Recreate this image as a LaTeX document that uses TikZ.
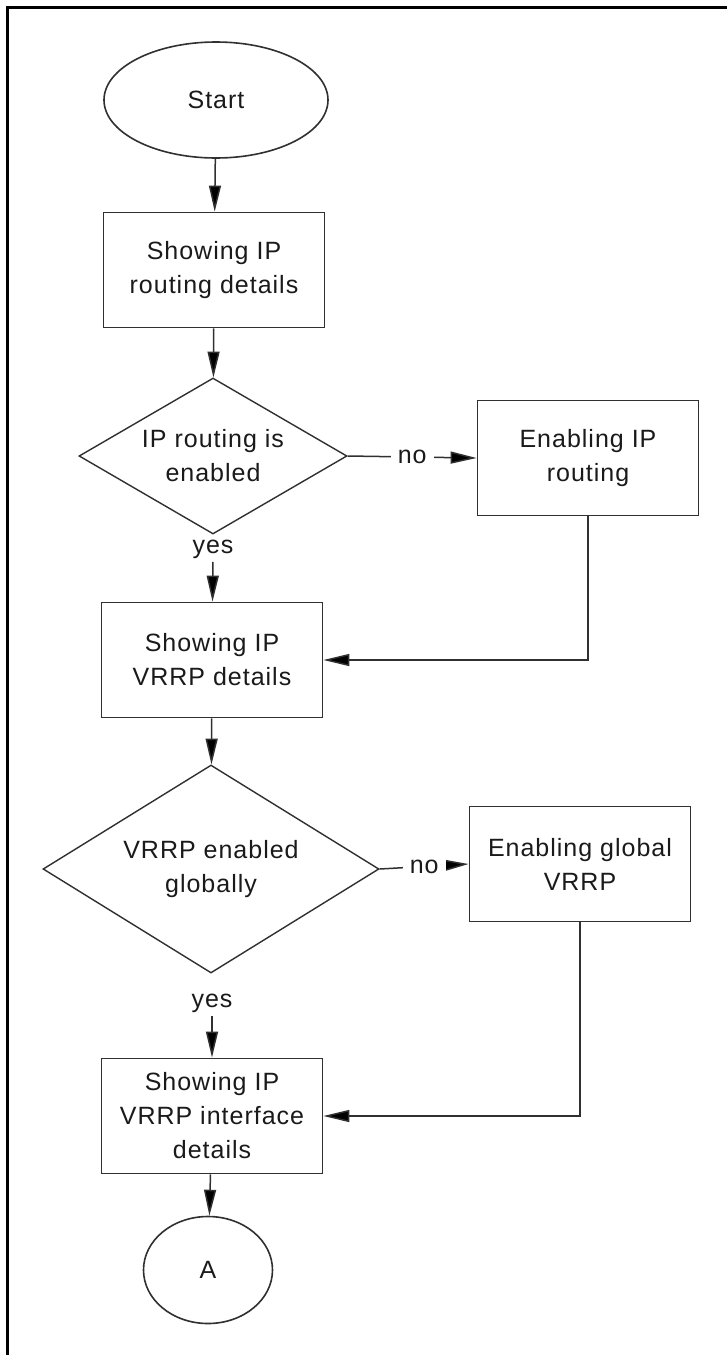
\documentclass[tikz,border=0pt]{standalone}
\usepackage{fontspec}
\setmainfont{Liberation Sans}[LetterSpace=4]
\usetikzlibrary{shapes.geometric,arrows.meta}
\definecolor{ln}{HTML}{303030}
\definecolor{tx}{HTML}{1A1A1A}
\begin{document}
\begin{tikzpicture}[x=1pt,y=-1pt,
  every node/.style={font=\fontsize{25}{34}\selectfont,text=tx,align=center},
  procbox/.style={draw=ln,line width=1.8pt,rectangle,minimum width=221pt,minimum height=115pt,inner sep=0pt},
  oval/.style={draw=ln,line width=1.6pt,ellipse,inner sep=0pt},
  decide/.style={draw=ln,line width=1.4pt,diamond,inner sep=0pt},
  lbl/.style={fill=white,inner xsep=7pt,inner ysep=2pt},
  arr/.style={draw=ln,line width=1.5pt,-{Triangle[length=26pt,width=12pt,fill=black]}}
]
\useasboundingbox (0,0) rectangle (727,1355);
\fill[white] (0,0) rectangle (727,1355);
% frame
\draw[line width=3.2pt,black] (7.8,1355) -- (7.8,7.8) -- (727,7.8);

\node[oval,minimum width=224pt,minimum height=116pt] (start) at (216,100) {Start};
\node[procbox] (b1) at (214,270) {Showing IP\\routing details};
\node[decide,shape aspect=1.72,minimum width=268pt,minimum height=156pt] (d1) at (213,456) {IP routing is\\enabled};
\node[procbox] (e1) at (588,458) {Enabling IP\\routing};
\node (y1) at (213,549) {yes};
\node[procbox] (b2) at (212,660) {Showing IP\\VRRP details};
\node[decide,shape aspect=1.62,minimum width=336pt,minimum height=208pt] (d2) at (211,869) {VRRP enabled\\globally};
\node[procbox] (e2) at (580,864) {Enabling global\\VRRP};
\node (y2) at (212,1003) {yes};
\node[procbox] (b3) at (212,1116) {Showing IP\\VRRP interface\\details};
\node[oval,minimum width=129pt,minimum height=107pt] (a) at (208,1270) {A};

\draw[arr] (start) -- (b1);
\draw[arr] (b1) -- (d1);
\draw[arr] (d1.east) -- node[lbl] {no} (e1.west);
\draw[arr] (y1) -- (b2);
\draw[arr] (e1.south) |- (b2.east);
\draw[arr] (b2) -- (d2);
\draw[arr] (d2.east) -- node[lbl] {no} (e2.west);
\draw[arr] (y2) -- (b3);
\draw[arr] (e2.south) |- (b3.east);
\draw[arr] (b3) -- (a);
\end{tikzpicture}
\end{document}
